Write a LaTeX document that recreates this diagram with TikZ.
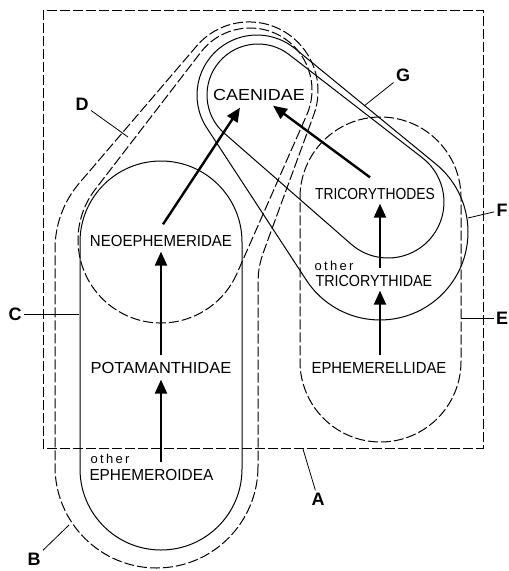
\documentclass[tikz,border=0pt]{standalone}
\usepackage{fontspec}
\usepackage{graphicx}
\usetikzlibrary{calc,arrows.meta}
\newfontfamily\lblfont{Liberation Sans}
\newfontfamily\otherfont[LetterSpace=18]{Liberation Sans}
% convex hull outline of two circles: style, x1, y1, r1, x2, y2, r2
\newcommand\myhull[7]{%
  \pgfmathsetmacro\hdx{(#5)-(#2)}%
  \pgfmathsetmacro\hdy{(#6)-(#3)}%
  \pgfmathsetmacro\hL{10*veclen(\hdx/10,\hdy/10)}%
  \pgfmathsetmacro\hphi{atan2(\hdy,\hdx)}%
  \pgfmathsetmacro\hal{acos(((#4)-(#7))/\hL)}%
  \pgfmathsetmacro\hA{\hphi+\hal}%
  \pgfmathsetmacro\hB{\hphi-\hal+360}%
  \pgfmathsetmacro\hC{\hphi-\hal}%
  \draw[#1] (#2,#3) ++(\hA:#4) arc[start angle=\hA, end angle=\hB, radius=#4]
    -- ($(#5,#6)+(\hC:#7)$) arc[start angle=\hC, end angle=\hA, radius=#7] -- cycle;
}
\begin{document}
\begin{tikzpicture}[x=1pt,y=-1pt,line width=1pt,
  dshape/.style={dash pattern=on 10pt off 3pt},
  sshape/.style={},
  txt/.style={font=\lblfont\fontsize{16}{16}\selectfont, inner sep=1pt},
  oth/.style={font=\otherfont\fontsize{13}{13}\selectfont, inner sep=1pt},
  lab/.style={font=\lblfont\bfseries\fontsize{18}{18}\selectfont, inner sep=2pt},
  arr/.style={line width=2.4pt, -{Triangle[length=14pt,width=12pt]}},
  leader/.style={line width=0.8pt}]
\useasboundingbox (0,0) rectangle (509,571);
% A
\draw[dshape] (43,10) rectangle (483,448);
% C
\myhull{sshape}{161}{242}{81}{161}{469}{81}
% D
\myhull{dshape}{161}{240}{83}{250}{90}{62}
% E
\myhull{dshape}{380.5}{197.5}{80.5}{380.5}{361.5}{80.5}
% F
\myhull{sshape}{257}{95}{60}{380}{232}{88}
% G
\myhull{sshape}{258}{95}{51}{388}{202}{56}
% B
\draw[dshape] (258,466.5) arc[start angle=0,end angle=180,radius=101.5]
  -- (55,249) arc[start angle=180,end angle=220.54,radius=101.5]
  -- (196.6,46.1) arc[start angle=-139.46,end angle=20.14,radius=69]
  -- (268.3,238.8) .. controls (258,267) .. (258,297) -- cycle;
% texts
\node[txt, anchor=base] (cae) at (259,100) {\scalebox{1.12}[1]{CAENIDAE}};
\node[txt, anchor=base] (neo) at (161,246) {\scalebox{0.94}[1]{NEOEPHEMERIDAE}};
\node[txt, anchor=base] (pot) at (161,373) {\scalebox{1.03}[1]{POTAMANTHIDAE}};
\node[oth, anchor=base west] (oth1) at (89,463) {other};
\node[txt, anchor=base west] (eph) at (88,480) {\scalebox{0.96}[1]{EPHEMEROIDEA}};
\node[txt, anchor=base] (trd) at (375,199) {\scalebox{0.865}[1]{TRICORYTHODES}};
\node[oth, anchor=base west] (oth2) at (313,270) {other};
\node[txt, anchor=base west] (trc) at (314,286) {\scalebox{0.895}[1]{TRICORYTHIDAE}};
\node[txt, anchor=base] (epl) at (379,373) {\scalebox{0.93}[1]{EPHEMERELLIDAE}};
% arrows
\draw[arr] ($(pot.north)+(0,-5)$) -- ($(neo.south)+(0,4)$);
\draw[arr] ($(pot.south |- eph.north)+(0,-5)$) -- ($(pot.south)+(0,5)$);
\draw[arr] ($(epl.north)+(1,-5)$) -- ($(epl.north |- trc.south)+(1,3)$);
\draw[arr] ($(epl.north |- trc.north)+(1,-5)$) -- ($(epl.north |- trd.south)+(1,3)$);
\draw[arr] ($(trd.north)+(-5,-9)$) -- ($(cae.south)+(14,4)$);
\draw[arr] ($(neo.north)+(2,-9)$) -- ($(cae.south)+(-19,6)$);
% labels and leaders
\node[lab] (lA) at (318,499) {A}; \coordinate (pA) at (303,449);
\node[lab] (lB) at (34,559) {B};  \coordinate (pB) at (69,525);
\node[lab] (lC) at (15,314) {C};  \coordinate (pC) at (79,314);
\node[lab] (lD) at (82,104) {D};  \coordinate (pD) at (128,137);
\node[lab] (lE) at (502,318) {E}; \coordinate (pE) at (461,318);
\node[lab] (lF) at (502,210) {F}; \coordinate (pF) at (468,218);
\node[lab] (lG) at (403,75) {G};  \coordinate (pG) at (364,106);
\foreach \l/\p in {lA/pA,lB/pB,lC/pC,lD/pD,lE/pE,lF/pF,lG/pG}
  \draw[leader] (\l) -- (\p);
\end{tikzpicture}
\end{document}
